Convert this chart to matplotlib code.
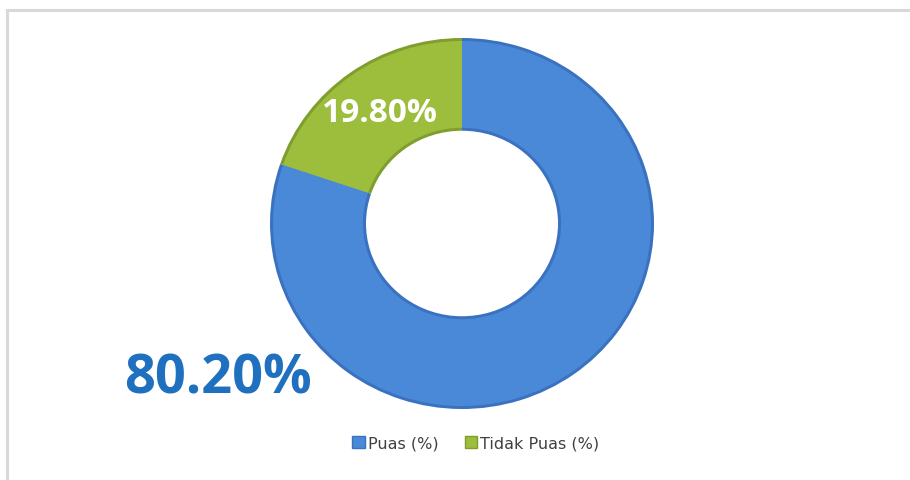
import matplotlib
matplotlib.use("Agg")
import matplotlib.pyplot as plt
from matplotlib.patches import Rectangle, Patch

labels = ["Puas (%)", "Tidak Puas (%)"]
values = [80.2, 19.8]
value_text = ["80.20%", "19.80%"]
colors = ["#4a88d8", "#9dbd3c"]
edge_colors = ["#3a72c0", "#7f9e2e"]


def main():
    W, H = 910, 481
    fig = plt.figure(figsize=(W / 100, H / 100), dpi=100)

    # background axes in pixel units for the frame and the labels
    ax = fig.add_axes([0, 0, 1, 1])
    ax.set_xlim(0, W)
    ax.set_ylim(0, H)
    ax.axis("off")
    ax.add_patch(Rectangle((7, -20), 940, H - 11 + 20, fill=False,
                           edgecolor="#d9d9d9", linewidth=2.2))

    # donut axes: Excel's ring is slightly wider than tall
    cx, cy, rx, ry = 462, 224.5, 192, 185.5
    dax = fig.add_axes([(cx - rx) / W, (H - cy - ry) / H, 2 * rx / W, 2 * ry / H])
    dax.pie(values, colors=edge_colors, startangle=90, counterclock=False,
            radius=1.0, wedgeprops=dict(width=0.5, edgecolor="none"))
    dax.pie(values, colors=colors, startangle=90, counterclock=False,
            radius=0.984, wedgeprops=dict(width=0.468, edgecolor="none"))
    dax.set_aspect("auto")
    dax.set_xlim(-1, 1)
    dax.set_ylim(-1, 1)
    dax.axis("off")

    ax.text(380, H - 113, value_text[1], color="white", fontsize=24,
            fontweight="bold", family="Open Sans", ha="center", va="center",
            zorder=5)
    ax.text(218, H - 380, value_text[0], color="#1f71bf", fontsize=39,
            fontweight="bold", family="Open Sans", ha="center", va="center")
    # keep labels above the donut axes
    ax.set_zorder(2)
    ax.patch.set_alpha(0)

    handles = [Patch(facecolor=c, edgecolor=e) for c, e in zip(colors, edge_colors)]
    leg = ax.legend(handles, labels, loc="center", bbox_to_anchor=(476 / W, 1 - 444 / H),
                    ncol=2, frameon=False, handlelength=0.8, handleheight=0.7,
                    handletextpad=0.2, columnspacing=1.6,
                    prop=dict(family="DejaVu Sans", size=11.5))
    for t in leg.get_texts():
        t.set_color("#404040")

    fig.savefig("out.png", dpi=100)


if __name__ == "__main__":
    main()
